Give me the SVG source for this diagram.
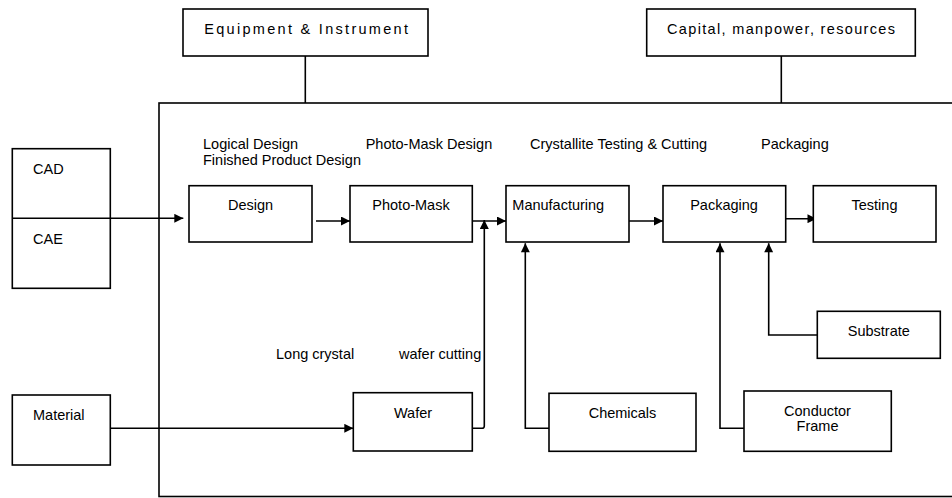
<svg xmlns="http://www.w3.org/2000/svg" width="952" height="498" viewBox="0 0 952 498">
<defs>
<style>
.box{fill:#fff;stroke:#000;stroke-width:1.6}
.frame{fill:none;stroke:#000;stroke-width:1.6}
.ln{fill:none;stroke:#000;stroke-width:1.6}
.arr{fill:none;stroke:#000;stroke-width:1.6;marker-end:url(#ah)}
text{font-family:"Liberation Sans",Arial,sans-serif;font-size:14.5px;fill:#000}
.c{text-anchor:middle}
</style>
<marker id="ah" viewBox="0 0 10 10" refX="10" refY="5" markerWidth="10" markerHeight="9" markerUnits="userSpaceOnUse" orient="auto">
<path d="M0,0 L10,5 L0,10 z" fill="#000"/>
</marker>
</defs>
<rect width="952" height="498" fill="#fff"/>

<g id="frame">
<rect class="frame" x="159" y="103" width="800" height="393.5"/>
</g>

<g id="connectors">
<line class="ln" x1="305.3" y1="56" x2="305.3" y2="103"/>
<line class="ln" x1="781.3" y1="56" x2="781.3" y2="103"/>
<line class="arr" x1="12" y1="218.3" x2="183.3" y2="218.3"/>
<line class="arr" x1="316" y1="221" x2="350" y2="221"/>
<line class="arr" x1="472" y1="221" x2="506" y2="221"/>
<line class="arr" x1="629" y1="221" x2="663" y2="221"/>
<line class="arr" x1="783" y1="218.7" x2="816.5" y2="218.7"/>
<line class="arr" x1="110" y1="428.3" x2="353.3" y2="428.3"/>
<path class="arr" d="M472,428.3 H482 Q484.3,428.3 484.3,426 V220"/>
<path class="arr" d="M549,428.3 H525.3 V243.3"/>
<path class="arr" d="M744,428.3 H720 V243.3"/>
<path class="arr" d="M817.3,335 H768.7 V243.3"/>
</g>

<g id="equipment">
<rect class="box" x="183" y="9" width="245" height="47"/>
<text x="204.3" y="34" textLength="203.7" lengthAdjust="spacing">Equipment &amp; Instrument</text>
</g>
<g id="capital">
<rect class="box" x="646.7" y="9" width="268.6" height="47"/>
<text x="667" y="34" textLength="228" lengthAdjust="spacing">Capital, manpower, resources</text>
</g>

<g id="cad-cae">
<rect class="box" x="12.3" y="148.7" width="98" height="139.6"/>
<line class="ln" x1="12.3" y1="218.3" x2="110.3" y2="218.3"/>
<text x="33" y="174">CAD</text>
<text x="33" y="244">CAE</text>
</g>

<g id="material">
<rect class="box" x="12.3" y="395" width="98" height="70"/>
<text x="33" y="420">Material</text>
</g>

<g id="labels">
<text x="203" y="149">Logical Design</text>
<text x="203" y="165">Finished Product Design</text>
<text x="365.7" y="149">Photo-Mask Design</text>
<text x="530" y="149">Crystallite Testing &amp; Cutting</text>
<text x="761" y="149">Packaging</text>
<text x="276" y="358.7">Long crystal</text>
<text x="399" y="358.7">wafer cutting</text>
</g>

<g id="design">
<rect class="box" x="189" y="185.7" width="123" height="56.3"/>
<text class="c" x="250.5" y="210">Design</text>
</g>
<g id="photomask">
<rect class="box" x="350" y="185.7" width="122.3" height="56.3"/>
<text class="c" x="411" y="210">Photo-Mask</text>
</g>
<g id="manufacturing">
<rect class="box" x="506" y="185.7" width="123" height="56.3"/>
<text x="512.3" y="210">Manufacturing</text>
</g>
<g id="packaging">
<rect class="box" x="663" y="185.7" width="122.7" height="56.3"/>
<text class="c" x="724" y="210">Packaging</text>
</g>
<g id="testing">
<rect class="box" x="813.3" y="185.7" width="122.7" height="56.3"/>
<text class="c" x="874.5" y="210">Testing</text>
</g>

<g id="wafer">
<rect class="box" x="353.3" y="392.7" width="119" height="58.3"/>
<text class="c" x="413" y="417.7">Wafer</text>
</g>
<g id="chemicals">
<rect class="box" x="549" y="393.3" width="147" height="58"/>
<text class="c" x="622.5" y="417.7">Chemicals</text>
</g>
<g id="conductor-frame">
<rect class="box" x="744" y="391" width="147.3" height="60.3"/>
<text class="c" x="817.5" y="415.7">Conductor</text>
<text class="c" x="817.5" y="431">Frame</text>
</g>
<g id="substrate">
<rect class="box" x="817.3" y="311.3" width="123" height="47"/>
<text class="c" x="878.8" y="335.7">Substrate</text>
</g>
</svg>
